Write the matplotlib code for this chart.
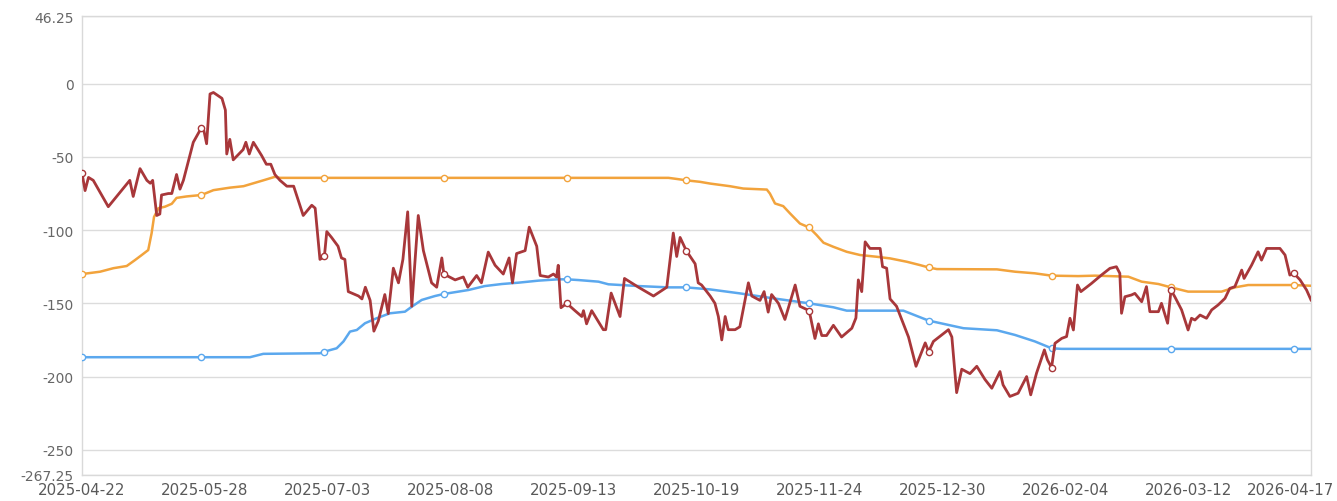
import numpy as np
import pandas as pd
import matplotlib
matplotlib.use("Agg")
import matplotlib.pyplot as plt
import matplotlib.transforms as mtransforms

# x values are days since 2025-04-22
start = pd.Timestamp("2025-04-22")
tick_labels = ["2025-04-22", "2025-05-28", "2025-07-03", "2025-08-08", "2025-09-13",
               "2025-10-19", "2025-11-24", "2025-12-30", "2026-02-04", "2026-03-12",
               "2026-04-17"]
mark_days = [0, 35, 71, 106, 142, 177, 213, 248, 284, 319, 355]

red_days = [0, 0.9, 1.9, 3.3, 7.7, 14, 15, 17, 19, 20, 20.7, 21.9, 22.8, 23.3, 25.3, 26.3,
            27.7, 28.7, 29.7, 32.6, 35, 35.7, 36.5, 37.5, 38.5, 41, 42, 42.4, 43.3, 44.3,
            47.2, 48, 49, 50.2, 52.6, 54, 55.3, 56.5, 58, 60, 62, 64.8, 67.3, 68.3, 69.7,
            71, 71.7, 73.1, 75, 76, 77, 78, 81, 82, 83, 84.4, 85.5, 86.8, 88.7, 89.7,
            91.2, 92.7, 94, 95.4, 96.6, 98.5, 100, 102.4, 103.9, 105.4, 106, 109.3, 111.7,
            113, 115.6, 117, 119, 121, 123.4, 125.1, 126.1, 127.3, 129.8, 131, 133.2, 134.2,
            136.6, 138.1, 139, 139.5, 140.3, 142, 144.4, 146.4, 146.9, 147.8, 149.3, 152.7,
            153.4, 155, 157.6, 158.9, 163, 167.4, 171.3, 173.2, 174.2, 175.2, 177, 179.6,
            180.5, 181.5, 184, 185.4, 186.4, 187.4, 188.4, 189.3, 191.3, 192.7, 195.2, 196.2,
            198.6, 199.8, 201, 202, 204, 205.9, 208.9, 210.3, 213, 214.7, 215.7, 216.7,
            218.1, 220.1, 222.5, 225.5, 226.7, 227.4, 228.4, 229.4, 230.8, 233.8, 234.5,
            235.7, 236.7, 238.6, 242.1, 244.3, 247, 248, 249.4, 253.8, 254.8, 256.2, 257.7,
            260.1, 262.1, 264.5, 266.5, 268.9, 269.8, 271.8, 274.2, 276.7, 277.9, 279.6,
            281.9, 282.8, 284, 285, 287, 288.4, 289.4, 290.4, 291.6, 292.6, 295.7, 298.6,
            301.1, 303, 304, 304.5, 305.5, 307.4, 308.4, 310.4, 311.8, 312.8, 315.3, 316.2,
            318, 319, 320.1, 322.1, 324, 325, 326, 327.5, 329.4, 330.9, 332.8, 334.8, 336.2,
            337.7, 339.7, 340.4, 342.6, 344.5, 345.5, 347, 350.9, 352.4, 353.8, 355, 356.8,
            358.7, 360]
red_vals = [-61, -73, -64, -66, -84, -66, -77, -58, -66, -68, -66, -90, -89, -76, -75, -75,
            -62, -72, -66, -40, -30, -32, -41, -7, -6, -10, -18, -48, -38, -52,
            -45, -40, -48, -40, -49, -55, -55, -62, -66, -70, -70, -90, -83, -85, -120,
            -118, -101, -105, -111, -119, -120, -142, -145, -147, -139, -148, -169, -162, -144, -157,
            -126, -136, -120, -87.5, -152, -90, -114, -136, -139, -119, -130, -134, -132,
            -139, -131, -136, -115, -124, -130, -119, -136, -116, -114, -98, -111, -131,
            -132, -130, -132, -124, -153, -150, -155, -159, -155, -164, -155, -168,
            -168, -143, -159, -133, -139, -145, -139, -102, -118, -105, -114, -123,
            -136, -137.5, -145, -150, -159, -175, -159, -168, -168, -166, -136, -145,
            -148, -142, -156, -144, -150, -161, -137.5, -152, -155, -174, -164, -172,
            -172, -165, -173, -167, -160, -134, -142, -108, -112.5, -112.5, -125,
            -126, -147, -152, -173, -193, -177, -183, -176, -168, -173, -211, -195,
            -198, -193, -202, -208, -196.6, -205.7, -213.6, -211.4, -200, -212.5, -197.7,
            -181.8, -188.6, -194, -177.3, -173.9, -172.7, -160.2, -168.2, -137.5, -142, -136.4, -130.7,
            -126.1, -125, -129.5, -156.8, -145.5, -144.3, -143.2, -148.9, -138.6, -155.7, -155.7, -150,
            -163.6, -141, -145.5, -154.5, -168.2, -160.2, -161.4, -158, -160.2, -154.5, -151.1, -146.6, -139.8,
            -138.6, -127.3, -133, -123.9, -114.8, -120.5, -112.5, -112.5, -117, -130.7, -129.5, -134,
            -140.9, -147.7]

orange_days = [0, 5.3, 9.2, 13.1, 15.5, 17.5, 19.4, 20.4, 21.1, 22.4, 24.3, 26.3, 27.7, 30.6,
               35, 38.5, 43.3, 47.3, 50.2, 53.1, 56.5, 58, 71, 106, 142, 171.8, 174.7, 177,
               181, 184, 189.8, 193.7, 200.6, 201.5, 203, 205.4, 207.4, 210.3, 213, 215.2,
               217.2, 220.1, 224, 227.9, 232.8, 236.7, 241.6, 245.5, 248, 250.4, 268, 273.3,
               279.1, 284, 291.8, 296.7, 306.5, 310.4, 315.3, 319, 324, 333.8, 337.7, 341.6,
               347.5, 355, 360]
orange_vals = [-130, -128.4, -126, -124.5, -120.5, -117, -113.6, -102, -91, -85, -84, -82, -78, -77,
               -76, -72.7, -71, -70, -68, -66, -63.6, -64.3, -64.3, -64.3, -64.3, -64.3, -65.2, -66,
               -67, -68.2, -70, -71.6, -72.3, -75, -81.8, -83.6, -88.6, -95.5, -98.2, -103.4,
               -108.6, -111.4, -114.8, -117, -118.2, -119.3, -121.6, -123.9, -125.5, -126.6, -126.8, -128.4,
               -129.5, -131.1, -131.4, -131.1, -131.8, -135.2, -136.8, -139.1, -142, -142, -139.1, -137.5,
               -137.5, -137.5, -138]

blue_days = [0, 35, 49.2, 53.1, 69.7, 71, 74.6, 76.6, 78.5, 80.5, 82.9, 86.3, 90.2, 94.6, 96.6,
             99.5, 103.4, 106, 113.2, 118, 123, 127.8, 133.7, 139.5, 142, 145.4, 151.3, 154.2,
             163, 171.8, 177, 184, 192.7, 202.5, 213, 220.1, 224, 240.6, 244.5, 248, 258.2,
             268, 273.3, 279.1, 284, 286.9, 319, 355, 360]
blue_vals = [-186.8, -186.8, -186.8, -184.5, -184.1, -183, -180.7, -176, -169.3, -168.2, -163.6,
             -160.2, -156.8, -155.7, -152.3, -147.7, -145, -143.6, -140.9, -138.2, -136.8, -135.9,
             -134.5, -133.6, -133.6, -134.1, -135.2, -137, -138.2, -139.1, -139.1, -140.5, -143.2,
             -146.6, -150, -152.7, -155, -155, -158.6, -161.8, -167, -168.4, -171.6, -176, -180.7,
             -181.1, -181.1, -181.1, -181.1]

fig = plt.figure(figsize=(13.37, 5.02), dpi=100)
ax = fig.add_axes([82 / 1337, 1 - 476 / 502, (1311 - 82) / 1337, (476 - 17) / 502])

def draw(days, vals, color, lw, z):
    idx = [i for i, d in enumerate(days) if d in mark_days]
    ax.plot(days, vals, color=color, lw=lw, zorder=z, marker="o", markevery=idx,
            markersize=4.5, markerfacecolor="white", markeredgecolor=color, markeredgewidth=1.0)

draw(orange_days, orange_vals, "#f2a33c", 1.8, 3)
draw(blue_days, blue_vals, "#5ba8ee", 1.8, 3)
draw(red_days, red_vals, "#a8373a", 2.0, 4)

ax.set_xlim(0, 360)
ax.set_ylim(-267.25, 46.25)
ax.set_xticks(np.arange(len(tick_labels)) * 36)
ax.set_xticklabels(tick_labels)
ax.set_yticks([-267.25, -250, -200, -150, -100, -50, 0, 46.25])
ax.set_yticklabels(["-267.25", "-250", "-200", "-150", "-100", "-50", "0", "46.25"])
ax.tick_params(axis="y", length=0, labelsize=10, labelcolor="#666666", pad=6)
ax.tick_params(axis="x", length=0, labelsize=10.8, labelcolor="#595959", pad=5)
ax.grid(axis="y", color="#dcdcdc", lw=1)
ax.set_axisbelow(True)
for s in ax.spines.values():
    s.set_color("#d9d9d9")
    s.set_linewidth(1)

# last date label is pulled in so it stays inside the figure
last = ax.get_xticklabels()[-1]
last.set_transform(last.get_transform() + mtransforms.ScaledTranslation(-0.21, 0, fig.dpi_scale_trans))

fig.savefig("out.png", dpi=100)
